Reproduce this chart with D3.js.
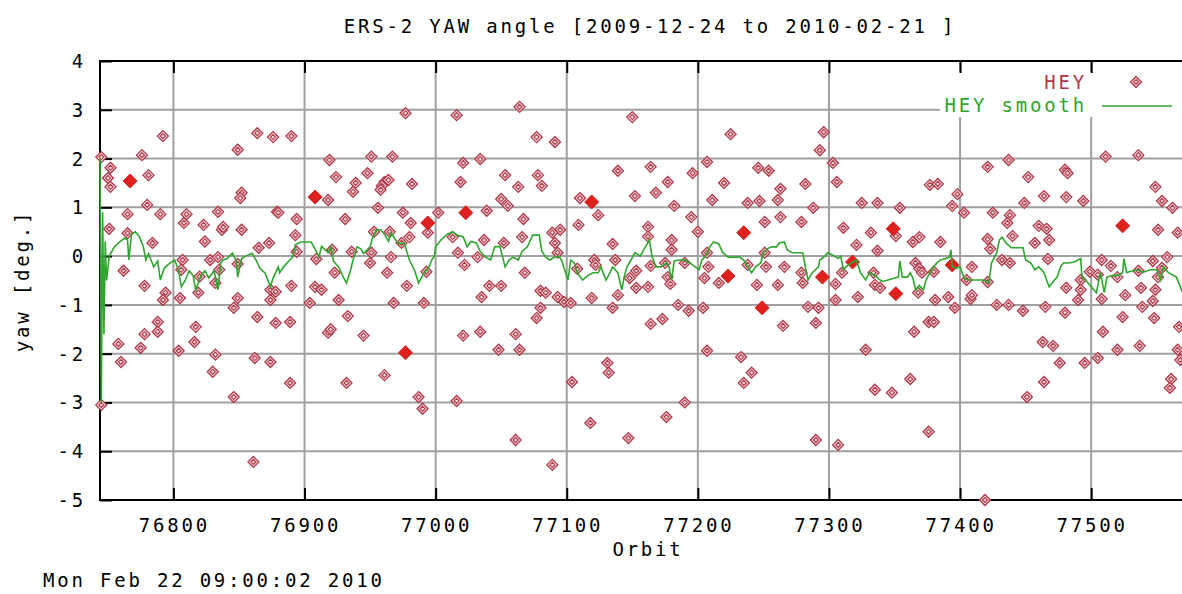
<!DOCTYPE html>
<html>
<head>
<meta charset="utf-8">
<script src="https://cdn.jsdelivr.net/npm/d3@7/dist/d3.min.js"></script>
<style>
  body { margin: 0; background: #fff; overflow: hidden; }
  text { font-family: "DejaVu Sans Mono", "Liberation Mono", monospace; }
</style>
</head>
<body>
<div id="wrapper"></div>
<script>
// tick values
var xTicks = [76800, 76900, 77000, 77100, 77200, 77300, 77400, 77500];
var yTicks = [4, 3, 2, 1, 0, -1, -2, -3, -4, -5];

// HEY points [orbit, yaw]
var heyPoints = [
  [76745,2.03],[76745,-3.05],[76792,2.46],[76776,2.07],[76752,1.81],[76750,1.6],[76752,1.42],[76781,1.66],[76780,1.05],[76765,0.86],
  [76790,0.86],[76810,0.86],[76808,0.68],[76751,0.56],[76765,0.47],[76784,0.27],[76762,-0.3],[76778,-0.61],[76794,-0.75],[76792,-0.9],
  [76805,-0.86],[76788,-1.35],[76788,-1.55],[76778,-1.6],[76758,-1.8],[76775,-1.88],[76760,-2.17],[76804,-1.94],[76817,-1.45],[76816,-1.76],
  [76823,0.64],[76824,0.3],[76807,-0.08],[76806,-0.28],[76820,-0.42],[76819,-0.75],[76832,-0.55],[76828,-0.08],[76834,-0.02],[76835,-0.28],
  [76837,0.54],[76838,0.6],[76834,0.91],[76852,1.3],[76851,1.19],[76849,2.18],[76864,2.52],[76876,2.44],[76852,0.54],[76865,0.17],
  [76873,0.27],[76849,-0.16],[76849,-0.86],[76846,-1.06],[76864,-1.25],[76874,-0.9],[76878,-1.37],[76832,-2.02],[76830,-2.37],[76862,-2.09],
  [76874,-2.17],[76846,-2.89],[76861,-4.22],[76879,0.91],[76874,-0.69],
  [76890,2.46],[76977,2.93],[77016,2.89],[76919,1.97],[76951,2.04],[76967,2.04],[76924,1.62],[76948,1.7],[76939,1.5],[76937,1.32],
  [76961,1.52],[76959,1.44],[76958,1.36],[76964,1.56],[76982,1.48],[76918,1.15],[76880,0.89],[76894,0.76],[76931,0.76],[76956,0.99],
  [76975,0.89],[76981,0.68],[77002,0.89],[76994,0.48],[76893,0.43],[76980,0.39],[76953,0.5],[76965,0.5],[77013,0.39],[76894,0.09],
  [76909,-0.06],[76921,0.13],[76936,0.09],[76951,0.07],[76950,-0.14],[76966,-0.02],[76974,0.27],[77017,0.07],[76923,-0.34],[76963,-0.34],
  [76993,-0.32],[76890,-0.61],[76908,-0.63],[76913,-0.69],[76978,-0.61],[76878,-0.73],[76904,-0.96],[76926,-0.9],[76968,-0.96],[76991,-0.96],
  [76889,-1.35],[76933,-1.23],[76918,-1.57],[76920,-1.5],[76945,-1.63],[76889,-2.6],[76932,-2.6],[76961,-2.44],[76987,-2.89],[76990,-3.13],
  [77016,-2.97],
  [77064,3.06],[77150,2.85],[77077,2.44],[77091,2.34],[77021,1.91],[77034,1.99],[77019,1.52],[77053,1.66],[77078,1.66],[77063,1.42],
  [77081,1.44],[77139,1.75],[77050,1.17],[77055,1.03],[77152,1.23],[77110,1.19],[77039,0.93],[77067,0.76],[77124,0.84],[77109,0.64],
  [77095,0.54],[77089,0.48],[77037,0.33],[77052,0.27],[77066,0.39],[77091,0.27],[77135,0.25],[77032,-0.02],[77093,0.07],[77121,-0.08],
  [77137,-0.08],[77153,-0.3],[77022,-0.18],[77068,-0.34],[77108,-0.26],[77122,-0.18],[77148,-0.45],[77153,-0.65],[77041,-0.61],[77050,-0.61],
  [77035,-0.84],[77080,-0.71],[77084,-0.75],[77093,-0.84],[77098,-0.94],[77103,-0.96],[77119,-0.86],[77139,-0.8],[77080,-1.06],[77135,-1.06],
  [77077,-1.27],[77021,-1.63],[77034,-1.55],[77061,-1.6],[77048,-1.92],[77064,-1.92],[77131,-2.19],[77132,-2.39],[77104,-2.58],[77118,-3.42],
  [77147,-3.73],[77061,-3.77],[77089,-4.28],
  [77225,2.5],[77164,1.83],[77207,1.93],[77177,1.52],[77196,1.7],[77220,1.5],[77246,1.81],[77254,1.75],[77282,1.48],[77263,1.38],
  [77168,1.3],[77182,1.03],[77211,1.15],[77238,1.09],[77247,1.13],[77261,1.15],[77288,0.99],[77195,0.8],[77251,0.7],[77263,0.8],
  [77279,0.7],[77162,0.6],[77200,0.5],[77162,0.4],[77180,0.33],[77180,0.13],[77207,0.07],[77251,0.07],[77164,-0.2],[77175,-0.14],
  [77190,-0.14],[77208,-0.22],[77238,-0.18],[77252,-0.22],[77266,-0.22],[77279,-0.34],[77177,-0.43],[77205,-0.45],[77162,-0.63],[77179,-0.57],
  [77216,-0.55],[77245,-0.59],[77261,-0.59],[77280,-0.55],[77185,-1.0],[77193,-1.12],[77204,-1.06],[77284,-1.04],[77164,-1.39],[77173,-1.29],
  [77265,-1.43],[77290,-1.37],[77207,-1.94],[77233,-2.07],[77241,-2.39],[77235,-2.6],[77190,-3.0],[77176,-3.3],[77290,-3.77],
  [77296,2.54],[77293,2.17],[77303,1.91],[77306,1.52],[77377,1.46],[77383,1.48],[77421,1.83],[77398,1.27],[77325,1.09],[77337,1.09],
  [77354,0.99],[77394,1.03],[77403,0.89],[77425,0.89],[77311,0.58],[77332,0.48],[77351,0.41],[77364,0.29],[77369,0.39],[77385,0.29],
  [77321,0.23],[77337,0.11],[77421,0.35],[77423,0.15],[77366,-0.14],[77369,-0.26],[77371,-0.34],[77380,-0.32],[77409,-0.22],[77310,-0.34],
  [77305,-0.57],[77334,-0.34],[77335,-0.59],[77339,-0.65],[77368,-0.75],[77405,-0.49],[77421,-0.53],[77305,-0.9],[77322,-0.84],[77381,-0.9],
  [77391,-0.84],[77396,-1.06],[77408,-0.88],[77409,-0.8],[77428,-1.0],[77292,-1.06],[77376,-1.35],[77380,-1.35],[77365,-1.55],[77328,-1.92],
  [77362,-2.52],[77335,-2.74],[77348,-2.8],[77376,-3.6],[77307,-3.87],[77419,-5.0],
  [77437,1.97],[77511,2.04],[77536,2.07],[77452,1.62],[77480,1.77],[77482,1.7],[77464,1.23],[77481,1.21],[77494,1.13],[77449,1.09],
  [77549,1.42],[77554,1.13],[77562,0.99],[77438,0.84],[77436,0.68],[77460,0.62],[77466,0.56],[77551,0.54],[77566,0.48],[77440,0.41],
  [77457,0.27],[77468,0.33],[77558,-0.02],[77432,-0.08],[77438,-0.14],[77467,-0.06],[77508,-0.08],[77515,-0.2],[77547,-0.1],[77554,-0.24],
  [77499,-0.32],[77505,-0.38],[77520,-0.43],[77536,-0.3],[77551,-0.43],[77492,-0.49],[77481,-0.65],[77492,-0.69],[77538,-0.65],[77549,-0.69],
  [77526,-0.8],[77490,-0.9],[77508,-0.88],[77547,-0.92],[77437,-1.0],[77448,-1.12],[77465,-1.04],[77480,-1.16],[77539,-1.04],[77524,-1.25],
  [77548,-1.27],[77567,-1.45],[77509,-1.55],[77463,-1.76],[77471,-1.84],[77520,-1.92],[77537,-1.84],[77566,-1.92],[77505,-2.09],[77476,-2.19],
  [77495,-2.19],[77568,-2.13],[77561,-2.52],[77560,-2.7],[77464,-2.58],[77451,-2.89]
];

// HEY points where several orbits stack up (drawn solid)
var heyStacked = [
  [76767,1.54],[76908,1.21],[76994,0.68],[76977,-1.98],[77023,0.89],[77119,1.11],[77235,0.48],[77223,-0.41],
  [77249,-1.06],[77349,0.56],[77318,-0.12],[77394,-0.18],[77295,-0.43],[77351,-0.77],[77524,0.62]
];

// HEY smooth [orbit, yaw]
var smoothPoints = [
  [76744,2.0],[76745,-3.0],[76746,0.9],[76747,-1.6],[76748,0.3],[76749,-0.5],[76751,0.0],[76755,0.19],[76759,0.29],[76763,0.37],
  [76765,0.33],[76766,-0.08],[76768,0.45],[76771,0.5],[76774,0.4],[76777,0.2],[76779,-0.08],[76781,0.05],[76785,-0.22],[76788,-0.1],
  [76790,-0.49],[76793,-0.25],[76797,-0.15],[76801,-0.08],[76804,-0.3],[76806,-0.63],[76809,-0.5],[76812,-0.3],[76815,-0.4],[76817,-0.69],
  [76821,-0.4],[76824,-0.3],[76827,-0.45],[76831,-0.3],[76834,-0.69],[76836,-0.14],[76838,-0.08],[76841,-0.05],[76845,0.06],[76848,-0.1],
  [76849,-0.43],[76852,-0.05],[76855,0.0],[76860,0.06],[76863,-0.08],[76866,-0.25],[76870,-0.35],[76874,-0.63],[76876,-0.45],[76880,-0.22],
  [76881,-0.34],[76884,-0.22],[76888,-0.1],[76891,-0.02],[76893,0.23],[76897,0.29],[76905,0.29],[76907,0.2],[76911,-0.02],[76913,0.2],
  [76918,0.07],[76920,0.19],[76922,-0.1],[76926,-0.22],[76930,-0.45],[76932,-0.55],[76935,-0.3],[76937,-0.08],[76940,0.19],[76943,0.15],
  [76945,0.05],[76950,0.19],[76952,0.39],[76955,0.54],[76958,0.54],[76961,0.45],[76964,0.3],[76966,0.48],[76969,0.35],[76972,0.25],
  [76976,0.27],[76980,-0.08],[76984,-0.3],[76987,-0.55],[76991,-0.35],[76995,-0.22],[76997,-0.08],[76999,0.0],[77000,0.19],[77004,0.33],
  [77009,0.45],[77013,0.5],[77017,0.42],[77021,0.4],[77024,0.19],[77027,0.3],[77031,0.27],[77034,0.1],[77038,-0.02],[77042,-0.08],
  [77045,0.19],[77049,0.2],[77053,-0.22],[77056,-0.08],[77059,-0.02],[77063,-0.08],[77066,0.1],[77070,0.19],[77074,0.43],[77079,0.43],
  [77081,0.1],[77084,-0.02],[77087,-0.08],[77091,-0.02],[77094,0.0],[77096,-0.08],[77098,-0.25],[77101,-0.49],[77103,-0.08],[77106,-0.15],
  [77108,-0.34],[77112,-0.49],[77116,-0.4],[77120,-0.34],[77124,-0.34],[77126,-0.22],[77130,-0.49],[77133,-0.34],[77135,-0.22],[77139,-0.34],
  [77142,-0.69],[77144,-0.4],[77146,-0.22],[77149,-0.08],[77152,0.07],[77156,0.0],[77160,0.19],[77163,0.33],[77165,0.0],[77168,-0.22],
  [77172,-0.22],[77176,-0.14],[77178,-0.22],[77180,-0.49],[77182,-0.1],[77186,-0.08],[77190,-0.08],[77194,-0.14],[77198,-0.22],[77201,-0.28],
  [77203,-0.08],[77206,0.0],[77209,0.19],[77212,0.29],[77216,0.25],[77219,0.07],[77223,-0.02],[77227,-0.02],[77232,-0.02],[77235,-0.08],
  [77238,-0.22],[77241,-0.34],[77244,-0.22],[77248,-0.14],[77250,0.07],[77253,0.15],[77256,0.19],[77260,0.19],[77262,0.27],[77266,0.29],
  [77268,0.13],[77272,0.07],[77276,0.07],[77280,0.07],[77282,-0.22],[77284,-0.49],[77287,-0.35],[77292,-0.22],[77293,-0.08],[77297,0.0],
  [77299,0.07],[77303,0.02],[77307,-0.05],[77309,0.0],[77311,-0.28],[77313,-0.22],[77317,-0.14],[77321,-0.08],[77324,-0.34],[77328,-0.49],
  [77331,-0.34],[77335,-0.4],[77339,-0.49],[77341,-0.52],[77345,-0.49],[77349,-0.46],[77353,-0.43],[77354,-0.1],[77356,-0.43],[77360,-0.43],
  [77362,-0.34],[77364,-0.45],[77366,-0.69],[77369,-0.6],[77372,-0.69],[77374,-0.49],[77377,-0.34],[77379,-0.25],[77382,-0.15],[77385,-0.08],
  [77389,-0.05],[77392,-0.02],[77393,0.13],[77394,-0.22],[77397,-0.25],[77400,-0.22],[77403,-0.45],[77406,-0.49],[77410,-0.49],[77414,-0.49],
  [77418,-0.49],[77422,-0.55],[77424,-0.14],[77428,0.07],[77430,0.33],[77432,0.39],[77435,0.27],[77439,0.17],[77444,0.17],[77448,0.17],
  [77450,-0.08],[77454,-0.14],[77457,-0.28],[77460,-0.22],[77464,-0.34],[77466,-0.49],[77468,-0.63],[77472,-0.49],[77474,-0.43],[77477,-0.2],
  [77479,-0.14],[77483,-0.14],[77487,-0.12],[77490,-0.08],[77492,-0.05],[77493,-0.43],[77496,-0.5],[77500,-0.63],[77504,-0.75],[77507,-0.34],
  [77510,-0.75],[77512,-0.43],[77516,-0.4],[77520,-0.4],[77524,-0.34],[77525,-0.05],[77527,-0.34],[77530,-0.31],[77536,-0.28],[77539,-0.34],
  [77545,-0.28],[77550,-0.28],[77553,-0.49],[77555,-0.22],[77559,-0.34],[77565,-0.43],[77568,-0.63],[77572,-0.9],[77574,-0.8],[77578,-1.0]
];

var svg = d3.select('#wrapper')
            .append('svg')
            .attr('width', 1182)
            .attr('height', 594);

var plotL = 100, plotR = 1200, plotT = 61, plotB = 500;

var x = d3.scaleLinear().domain([76744, 77583]).range([plotL, plotR]);
var y = d3.scaleLinear().domain([-5, 4]).range([plotB, plotT]);

var gridColor = '#a0a0a0';
var heyColor = '#b03848';
var smoothColor = '#2fa62f';
var font = 'font-size:19px;letter-spacing:2.8px;';

// grid
svg.append('g').selectAll('line')
   .data(xTicks).enter().append('line')
   .attr('x1', function(d) { return x(d); }).attr('x2', function(d) { return x(d); })
   .attr('y1', plotT).attr('y2', plotB)
   .attr('stroke', gridColor).attr('stroke-width', 2);

svg.append('g').selectAll('line')
   .data(yTicks).enter().append('line')
   .attr('x1', plotL).attr('x2', plotR)
   .attr('y1', function(d) { return y(d); }).attr('y2', function(d) { return y(d); })
   .attr('stroke', gridColor).attr('stroke-width', 2);

// legend box (opaque)
svg.append('rect')
   .attr('x', 940).attr('y', 72).attr('width', 260).attr('height', 45)
   .attr('fill', '#fff');

// axes drawn with d3 axis generators, ticks pointing inwards
var axisStyle = function(g) {
    g.select('.domain').remove();
    g.selectAll('.tick line').attr('stroke', '#000').attr('stroke-width', 2);
    g.selectAll('.tick text').remove();
};
svg.append('g').attr('transform', 'translate(0,' + plotB + ')')
   .call(d3.axisBottom(x).tickValues(xTicks).tickSize(-12)).call(axisStyle);
svg.append('g').attr('transform', 'translate(0,' + plotT + ')')
   .call(d3.axisTop(x).tickValues(xTicks).tickSize(-12)).call(axisStyle);
svg.append('g').attr('transform', 'translate(' + plotL + ',0)')
   .call(d3.axisLeft(y).tickValues(yTicks).tickSize(-12)).call(axisStyle);

// border
svg.append('path')
   .attr('d', 'M' + plotR + ',' + plotT + 'H' + plotL + 'V' + plotB + 'H' + plotR)
   .attr('fill', 'none').attr('stroke', '#000').attr('stroke-width', 2);

// tick labels
svg.append('g').selectAll('text')
   .data(xTicks).enter().append('text')
   .attr('x', function(d) { return x(d) + 1; })
   .attr('y', 532)
   .attr('text-anchor', 'middle')
   .attr('style', font)
   .text(function(d) { return d; });

svg.append('g').selectAll('text')
   .data(yTicks).enter().append('text')
   .attr('x', 86)
   .attr('y', function(d) { return y(d) + 7; })
   .attr('text-anchor', 'end')
   .attr('style', font)
   .text(function(d) { return d; });

// diamonds
var diamond = function(r) {
    return 'M0,' + (-r) + 'L' + r + ',0L0,' + r + 'L' + (-r) + ',0Z';
};
var drawHey = function(sel) {
    sel.append('path').attr('d', diamond(5.5))
       .attr('fill', '#f3d6da').attr('stroke', heyColor).attr('stroke-width', 1.3);
    sel.append('path').attr('d', diamond(2.5))
       .attr('fill', 'none').attr('stroke', heyColor).attr('stroke-width', 1.1);
};

svg.append('g').selectAll('g')
   .data(heyPoints).enter().append('g')
   .attr('transform', function(d) { return 'translate(' + x(d[0]) + ',' + y(d[1]) + ')'; })
   .call(drawHey);

svg.append('g').selectAll('path')
   .data(heyStacked).enter().append('path')
   .attr('d', diamond(7))
   .attr('transform', function(d) { return 'translate(' + x(d[0]) + ',' + y(d[1]) + ')'; })
   .attr('fill', '#e0201c').attr('stroke', '#d02020').attr('stroke-width', 1);

// smooth line
var line = d3.line()
             .x(function(d) { return x(d[0]); })
             .y(function(d) { return y(d[1]); });

svg.append('path')
   .datum(smoothPoints)
   .attr('d', line)
   .attr('fill', 'none')
   .attr('stroke', smoothColor)
   .attr('stroke-width', 1.6);

// legend
svg.append('text').attr('x', 1087).attr('y', 89).attr('text-anchor', 'end')
   .attr('style', font).attr('fill', heyColor).text('HEY');
svg.append('g').attr('transform', 'translate(1136,82)').call(drawHey);
svg.append('text').attr('x', 1087).attr('y', 112).attr('text-anchor', 'end')
   .attr('style', font).attr('fill', smoothColor).text('HEY smooth');
svg.append('line').attr('x1', 1102).attr('x2', 1172).attr('y1', 106).attr('y2', 106)
   .attr('stroke', smoothColor).attr('stroke-width', 1.6);

// titles
svg.append('text').attr('x', 650).attr('y', 33).attr('text-anchor', 'middle')
   .attr('style', font).text('ERS-2 YAW angle [2009-12-24 to 2010-02-21 ]');
svg.append('text').attr('x', 648).attr('y', 556).attr('text-anchor', 'middle')
   .attr('style', font).text('Orbit');
svg.append('text').attr('x', 43).attr('y', 587)
   .attr('style', font).text('Mon Feb 22 09:00:02 2010');
svg.append('text')
   .attr('transform', 'translate(29,281) rotate(-90)')
   .attr('text-anchor', 'middle')
   .attr('style', font).text('yaw [deg.]');
</script>
</body>
</html>
